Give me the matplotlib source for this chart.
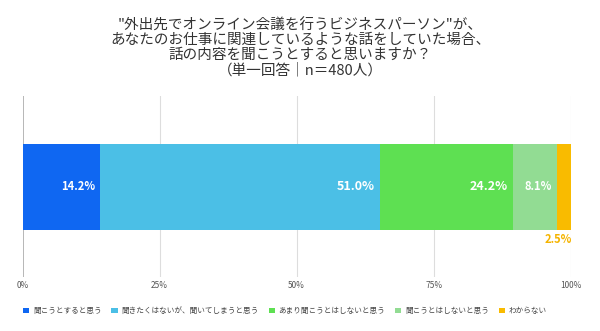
import matplotlib.pyplot as plt
import numpy as np

plt.rcParams['font.family'] = ['Noto Sans CJK JP', 'DejaVu Sans']

title = ('"外出先でオンライン会議を行うビジネスパーソン"が、\n'
         'あなたのお仕事に関連しているような話をしていた場合、\n'
         '話の内容を聞こうとすると思いますか？\n'
         '（単一回答｜n＝480人）')

labels = ['聞こうとすると思う', '聞きたくはないが、聞いてしまうと思う',
          'あまり聞こうとはしないと思う', '聞こうとはしないと思う', 'わからない']
values = [14.2, 51.0, 24.2, 8.1, 2.5]
colors = ['#0f67f2', '#4bbfe6', '#5ee052', '#92dc93', '#f9bb00']
ticks = [0, 25, 50, 75, 100]

fig = plt.figure(figsize=(6, 3.31), dpi=100)
ax = fig.add_axes([0.0375, 0.163, 0.914, 0.547])

left = 0
for lab, v, c in zip(labels, values, colors):
    ax.barh(0, v, left=left, height=0.475, color=c, label=lab)
    if v > 5:
        ax.text(left + v - 1.0, 0, f'{v:.1f}%', ha='right', va='center',
                color='white', fontsize=9 if v > 20 else 8, fontweight='bold')
    else:
        ax.text(left + v + 0.2, -0.29, f'{v:.1f}%', ha='right', va='center',
                color='#f5b400', fontsize=8, fontweight='bold')
    left += v

ax.set_xlim(0, 100)
ax.set_ylim(-0.5, 0.5)
ax.set_xticks(ticks)
ax.set_xticklabels([f'{t}%' for t in ticks], fontsize=6, color='#555555')
ax.set_yticks([])
ax.tick_params(axis='x', length=0, pad=3)
for t in ticks[1:]:
    ax.axvline(t, color='#dddddd', lw=0.8, zorder=0)
ax.axvline(0, color='#aaaaaa', lw=1.2, zorder=0)
for s in ax.spines.values():
    s.set_visible(False)

fig.text(0.5, 0.945, title, ha='center', va='top', fontsize=10.5,
         color='#333333', linespacing=1.08)

fig.legend(loc='center', bbox_to_anchor=(0.475, 0.06), ncol=5, frameon=False,
           fontsize=5.5, handlelength=0.8, handleheight=0.8, columnspacing=1.3,
           handletextpad=0.5, labelcolor='#444444')

plt.savefig('out.png', dpi=100)
